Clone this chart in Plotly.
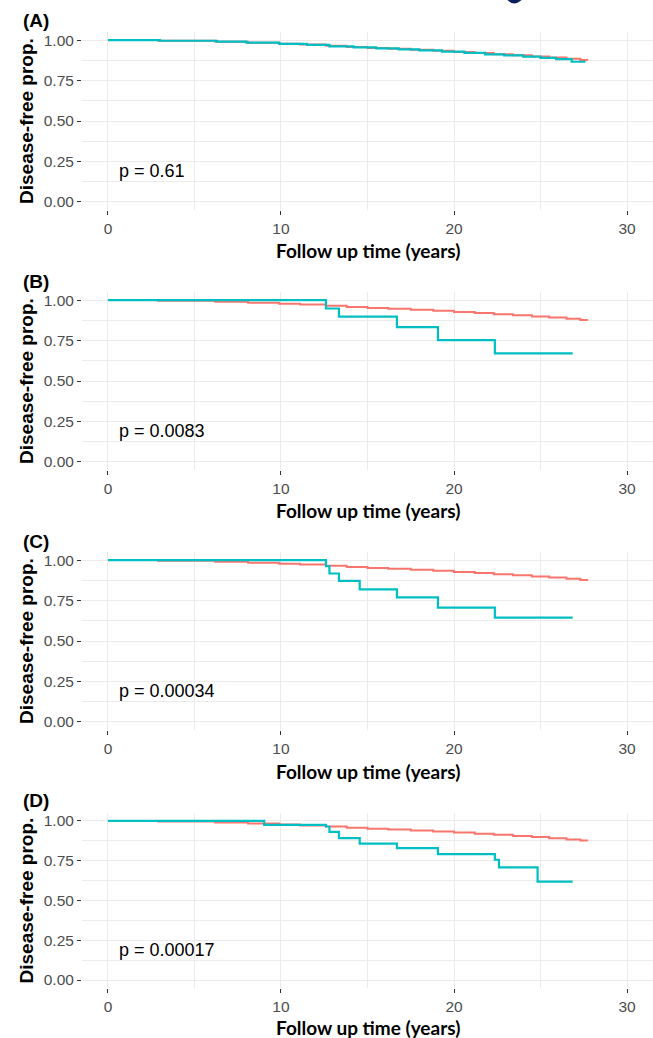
import plotly.graph_objects as go

# ---------------- data ----------------
panel_labels = ["(A)", "(B)", "(C)", "(D)"]
p_values = ["p = 0.61", "p = 0.0083", "p = 0.00034", "p = 0.00017"]

# reference group (red), same in every panel
ref_time = [0, 2.9, 6.2, 8.1, 9.9, 11.1, 12.6, 13.8, 15.0, 16.2, 17.5, 18.8, 20.0,
            21.2, 22.3, 23.4, 24.5, 25.5, 26.5, 27.3, 27.7]
ref_surv = [1.000, 0.996, 0.990, 0.984, 0.977, 0.972, 0.965, 0.958, 0.951, 0.946,
            0.940, 0.934, 0.927, 0.920, 0.913, 0.906, 0.899, 0.892, 0.884, 0.877, 0.872]

# comparison group (teal), one per panel
a_time = [0, 3.0, 6.3, 8.0, 9.9, 11.5, 12.8, 14.2, 15.5, 16.8, 18.0, 19.3, 20.6,
          21.8, 22.9, 24.0, 25.0, 25.9, 26.8, 27.6]
a_surv = [1.000, 0.996, 0.991, 0.984, 0.977, 0.970, 0.961, 0.955, 0.949, 0.943,
          0.936, 0.929, 0.921, 0.912, 0.905, 0.898, 0.890, 0.882, 0.866, 0.866]

b_time = [0, 12.6, 13.35, 16.7, 19.07, 22.36, 26.86]
b_surv = [1.000, 0.948, 0.898, 0.833, 0.752, 0.671, 0.671]

c_time = [0, 12.6, 12.8, 13.35, 14.55, 16.7, 19.07, 22.36, 26.86]
c_surv = [1.000, 0.962, 0.917, 0.871, 0.819, 0.769, 0.706, 0.644, 0.644]

d_time = [0, 9.03, 12.6, 12.8, 13.35, 14.55, 16.7, 19.07, 22.36, 22.6, 24.83, 26.86]
d_surv = [1.000, 0.975, 0.965, 0.931, 0.892, 0.858, 0.829, 0.792, 0.756, 0.708, 0.619, 0.619]

groups = [(a_time, a_surv), (b_time, b_surv), (c_time, c_surv), (d_time, d_surv)]

x_ticks = [0, 10, 20, 30]
y_ticks = [0.00, 0.25, 0.50, 0.75, 1.00]
y_ticklabels = ["0.00", "0.25", "0.50", "0.75", "1.00"]

RED = "#F8766D"
TEAL = "#00BFC4"

W, H = 653, 1038
L = 82
PW = W - L

# panel pixel layout: (plot top, plot bottom, label y, x-title y)
panel_px = [(32, 210, 21, 251), (292, 470, 281, 511), (552, 730, 541, 771), (813, 988, 800, 1027)]


def px_x(px):
    return (px - L) / PW


def px_y(py):
    return 1 - py / H


fig = go.Figure()

tick_font = dict(family="Liberation Sans, Arial", size=15.5, color="#4D4D4D")
xtitle_font = dict(family="Lato, Open Sans, Arial", size=19, color="black")
ytitle_font = dict(family="Liberation Sans, Arial", size=19, color="black")

layout = {}
annotations = []
for i in range(4):
    top_px, bot_px, lab_px, xt_px = panel_px[i]
    dom = [px_y(bot_px), px_y(top_px)]
    xa = "x" if i == 0 else f"x{i+1}"
    ya = "y" if i == 0 else f"y{i+1}"
    xk = "xaxis" if i == 0 else f"xaxis{i+1}"
    yk = "yaxis" if i == 0 else f"yaxis{i+1}"

    fig.add_trace(go.Scatter(x=ref_time, y=ref_surv, mode="lines", line_shape="hv",
                             line=dict(color=RED, width=2), xaxis=xa, yaxis=ya,
                             showlegend=False, hoverinfo="skip"))
    t, s = groups[i]
    fig.add_trace(go.Scatter(x=t, y=s, mode="lines", line_shape="hv",
                             line=dict(color=TEAL, width=2.2), xaxis=xa, yaxis=ya,
                             showlegend=False, hoverinfo="skip"))

    layout[xk] = dict(domain=[0, 1], anchor=ya, range=[-1.5, 31.5],
                      tickvals=x_ticks, ticktext=[str(v) for v in x_ticks],
                      showgrid=True, gridcolor="#EBEBEB", gridwidth=1,
                      minor=dict(tickvals=[5, 15, 25], showgrid=True, gridcolor="#EBEBEB", ticklen=0),
                      zeroline=False, showline=False,
                      ticks="outside", ticklen=4, tickcolor="#333333", tickwidth=1,
                      tickfont=tick_font, fixedrange=True)
    layout[yk] = dict(domain=dom, anchor=xa, range=[-0.05, 1.05],
                      tickvals=y_ticks, ticktext=y_ticklabels,
                      showgrid=True, gridcolor="#EBEBEB", gridwidth=1,
                      minor=dict(tickvals=[0.125, 0.375, 0.625, 0.875], showgrid=True,
                                 gridcolor="#EBEBEB", ticklen=0),
                      zeroline=False, showline=False,
                      ticks="outside", ticklen=4, tickcolor="#333333", tickwidth=1,
                      tickfont=tick_font, fixedrange=True)

    # p-value
    annotations.append(dict(x=0.5, y=0.19, xref=xa, yref=ya, text=p_values[i],
                            showarrow=False, xanchor="left", yanchor="middle",
                            font=dict(family="Liberation Sans, Arial", size=18, color="black")))
    # panel label
    annotations.append(dict(x=px_x(21), y=px_y(lab_px), xref="paper", yref="paper",
                            text="<b>" + panel_labels[i] + "</b>", showarrow=False,
                            xanchor="left", yanchor="middle",
                            font=dict(family="Liberation Sans, Arial", size=19, color="black")))
    # y title
    annotations.append(dict(x=px_x(26), y=px_y((top_px + bot_px) / 2), xref="paper", yref="paper",
                            text="<b>Disease-free prop.</b>", textangle=-90, showarrow=False,
                            xanchor="center", yanchor="middle", font=ytitle_font))
    # x title
    annotations.append(dict(x=0.5, y=px_y(xt_px), xref="paper", yref="paper",
                            text="<b>Follow up time (years)</b>", showarrow=False,
                            xanchor="center", yanchor="middle", font=xtitle_font))

# small dark crop remnant at top edge of the reference image
shapes = [dict(type="path", xref="paper", yref="paper",
               path=f"M {px_x(509)},{px_y(0)} Q {px_x(514)},{px_y(5)} {px_x(520)},{px_y(0)} Z",
               fillcolor="#0B1F5C", line=dict(color="#0B1F5C", width=2))]

fig.update_layout(**layout)
fig.update_layout(width=W, height=H, margin=dict(l=L, r=0, t=0, b=0),
                  paper_bgcolor="white", plot_bgcolor="white",
                  annotations=annotations, shapes=shapes, showlegend=False)

fig.write_html("out.html", config={"displayModeBar": False},
               post_script="document.body.style.margin='0';document.body.style.overflow='hidden';")
